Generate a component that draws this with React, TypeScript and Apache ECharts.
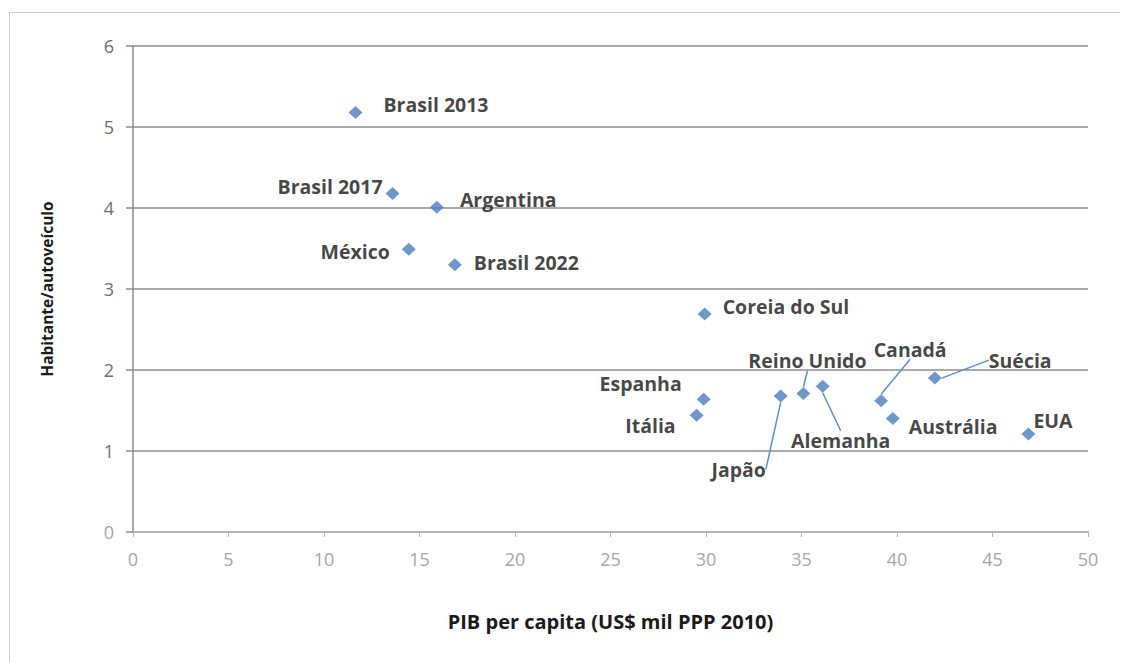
import React, { useEffect, useRef } from "react";
import * as echarts from "echarts";

// Data
const countries = [
  "Brasil 2013", "Brasil 2017", "Argentina", "México", "Brasil 2022",
  "Coreia do Sul", "Espanha", "Itália", "Japão", "Reino Unido",
  "Alemanha", "Canadá", "Austrália", "Suécia", "EUA",
];
const pibPerCapita = [11.65, 13.59, 15.91, 14.44, 16.85, 29.93, 29.88, 29.51, 33.91, 35.1, 36.11, 39.17, 39.78, 41.98, 46.88];
const habPorVeiculo = [5.18, 4.18, 4.01, 3.49, 3.3, 2.69, 1.64, 1.44, 1.68, 1.71, 1.8, 1.62, 1.4, 1.9, 1.21];
const xTicks = [0, 5, 10, 15, 20, 25, 30, 35, 40, 45, 50];
const yTicks = [0, 1, 2, 3, 4, 5, 6];

// Label placement (styling only)
const placement: Record<string, { pos: string; dx: number; dy: number; line?: boolean }> = {
  "Brasil 2013": { pos: "right", dx: 16, dy: -8 },
  "Brasil 2017": { pos: "left", dx: 2, dy: -7 },
  "Argentina": { pos: "right", dx: 11, dy: -8 },
  "México": { pos: "left", dx: -7, dy: 2 },
  "Brasil 2022": { pos: "right", dx: 7, dy: -2 },
  "Coreia do Sul": { pos: "right", dx: 6, dy: -8 },
  "Espanha": { pos: "left", dx: -10, dy: -16 },
  "Itália": { pos: "left", dx: -9, dy: 10 },
  "Japão": { pos: "bottom", dx: -42, dy: 52, line: true },
  "Reino Unido": { pos: "top", dx: 4, dy: -11, line: true },
  "Alemanha": { pos: "bottom", dx: 18, dy: 33, line: true },
  "Canadá": { pos: "top", dx: 29, dy: -30, line: true },
  "Austrália": { pos: "right", dx: 4, dy: 8 },
  "Suécia": { pos: "right", dx: 42, dy: -18, line: true },
  "EUA": { pos: "right", dx: -7, dy: -13 },
};

const FONT = "'Open Sans', 'Noto Sans', sans-serif";

export default function App() {
  const ref = useRef<HTMLDivElement>(null);
  useEffect(() => {
    if (!ref.current) return;
    const chart = echarts.init(ref.current, undefined, { renderer: "svg" });
    const data = countries.map((name, i) => {
      const p = placement[name];
      return {
        name,
        value: [pibPerCapita[i], habPorVeiculo[i]],
        label: { position: p.pos },
        labelLine: { show: !!p.line },
      };
    });
    chart.setOption({
      animation: false,
      backgroundColor: "#ffffff",
      textStyle: { fontFamily: FONT },
      grid: { left: 133, right: 37, top: 46, bottom: 130 },
      graphic: [
        { type: "line", shape: { x1: 9.5, y1: 12.5, x2: 1120, y2: 12.5 }, style: { stroke: "#c8c8c8", lineWidth: 1 } },
        { type: "line", shape: { x1: 9.5, y1: 12.5, x2: 9.5, y2: 662 }, style: { stroke: "#c8c8c8", lineWidth: 1 } },
      ],
      xAxis: {
        type: "value",
        min: xTicks[0],
        max: xTicks[xTicks.length - 1],
        interval: 5,
        name: "PIB per capita (US$ mil PPP 2010)",
        nameLocation: "middle",
        nameGap: 79,
        nameTextStyle: { fontFamily: FONT, fontWeight: "bold", fontSize: 20, color: "#1a1a1a" },
        axisLine: { show: true, lineStyle: { color: "#b4b4b4", width: 2 } },
        axisTick: { show: true, length: 5, lineStyle: { color: "#b4b4b4" } },
        axisLabel: { color: "#a6a6a6", fontSize: 18, margin: 18, fontFamily: FONT },
        splitLine: { show: false },
      },
      yAxis: {
        type: "value",
        min: yTicks[0],
        max: yTicks[yTicks.length - 1],
        interval: 1,
        name: "Habitante/autoveículo",
        nameLocation: "middle",
        nameGap: 78,
        nameTextStyle: { fontFamily: FONT, fontWeight: "bold", fontSize: 15.5, color: "#1a1a1a" },
        axisLine: { show: true, lineStyle: { color: "#8c8c8c", width: 1.5 } },
        axisTick: { show: true, length: 7, lineStyle: { color: "#8c8c8c", width: 1.5 } },
        axisLabel: {
          fontSize: 18,
          margin: 19,
          fontFamily: FONT,
          color: (v: any) => (Number(v) === 0 ? "#a6a6a6" : "#6e6e6e"),
        },
        splitLine: { show: true, lineStyle: { color: "#8c8c8c", width: 1.5 } },
      },
      series: [
        {
          type: "scatter",
          symbol: "diamond",
          symbolSize: [14, 13],
          itemStyle: { color: "#4a7ebb" },
          data,
          label: {
            show: true,
            formatter: "{b}",
            fontFamily: FONT,
            fontWeight: "bold",
            fontSize: 19.5,
            color: "#141414",
            distance: 5,
          },
          labelLine: { show: false, length2: 0, minTurnAngle: 180, lineStyle: { color: "#5b8fd0", width: 1.5 } },
          labelLayout: (params: any) => {
            const p = placement[countries[params.dataIndex]];
            return { dx: p.dx, dy: p.dy };
          },
        },
      ],
    });
    return () => chart.dispose();
  }, []);
  return (
    <div
      ref={ref}
      style={{ position: "absolute", left: 0, top: 0, width: 1125, height: 662 }}
    />
  );
}
